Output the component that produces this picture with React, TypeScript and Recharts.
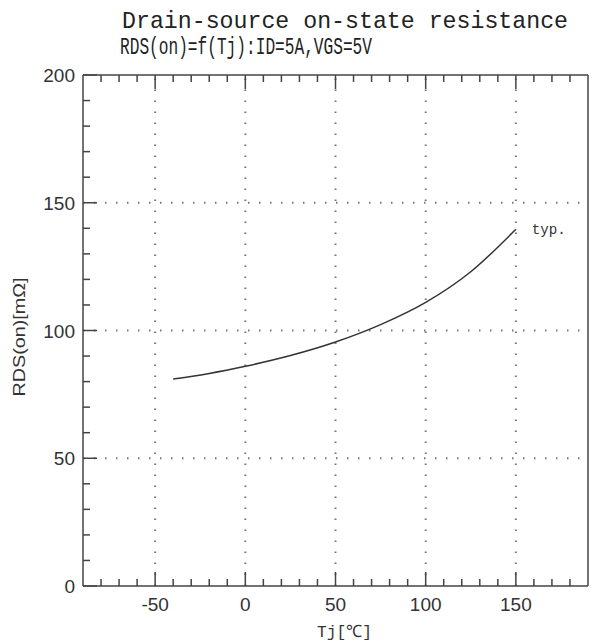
import { Line, LineChart, ReferenceLine, XAxis, YAxis, LabelList } from 'recharts'

const tj = [-40, -20, 0, 25, 50, 75, 100, 125, 150]
const rdsOn = [81, 83.2, 86, 90.2, 95.5, 102.3, 111, 123, 139.6]

const xTicks = [-80, -70, -60, -50, -40, -30, -20, -10, 0, 10, 20, 30, 40, 50, 60, 70, 80, 90, 100, 110, 120, 130, 140, 150, 160, 170, 180]
const yTicks = [0, 10, 20, 30, 40, 50, 60, 70, 80, 90, 100, 110, 120, 130, 140, 150, 160, 170, 180, 190, 200]
const xGrid = [-50, 0, 50, 100, 150]
const yGrid = [50, 100, 150]

const data = tj.map((t, i) => ({ tj: t, r: rdsOn[i] }))

const INK = '#444'
const TICK_FONT = '"Liberation Sans Narrow", "Liberation Sans", Arial, sans-serif'
const MONO = '"Liberation Mono", "DejaVu Sans Mono", monospace'

function XTick(props: any) {
  const { x, y, payload, side } = props
  const major = payload.value % 50 === 0
  const len = major ? 14 : 7
  const dir = side === 'top' ? 1 : -1
  return (
    <g>
      <line x1={x} y1={y} x2={x} y2={y + dir * len} stroke={INK} strokeWidth={1.5} />
      {side === 'bottom' && major && (
        <text x={x} y={y + 25} textAnchor="middle" fontSize={19} fill="#333" fontFamily={TICK_FONT}>
          {payload.value}
        </text>
      )}
    </g>
  )
}

function YTick(props: any) {
  const { x, y, payload, side } = props
  const major = payload.value % 50 === 0
  const len = major ? 14 : 7
  const dir = side === 'left' ? 1 : -1
  return (
    <g>
      <line x1={x} y1={y} x2={x + dir * len} y2={y} stroke={INK} strokeWidth={1.5} />
      {side === 'left' && major && (
        <text x={x - 8} y={y + 7} textAnchor="end" fontSize={19} fill="#333" fontFamily={TICK_FONT}>
          {payload.value}
        </text>
      )}
    </g>
  )
}

function TypLabel(props: any) {
  const { x, y, index } = props
  if (index !== data.length - 1) return null
  return (
    <text x={x + 16} y={y + 5} fontSize={15} fill="#333" fontFamily={MONO} textLength={34} lengthAdjust="spacingAndGlyphs">
      typ.
    </text>
  )
}

export default function App() {
  return (
    <div style={{ position: 'relative', width: 592, height: 642, background: '#fff' }}>
      <style>{'body{margin:0}'}</style>
      <LineChart width={592} height={642} data={data} margin={{ top: 70, right: 0, bottom: 6, left: 23 }}>
        <XAxis
          xAxisId="b"
          type="number"
          dataKey="tj"
          domain={[-90, 190]}
          ticks={xTicks}
          interval={0}
          tickSize={0}
          tickMargin={0}
          height={50}
          axisLine={{ stroke: INK, strokeWidth: 1.5 }}
          tick={<XTick side="bottom" />}
        />
        <XAxis
          xAxisId="t"
          orientation="top"
          type="number"
          dataKey="tj"
          domain={[-90, 190]}
          ticks={xTicks}
          interval={0}
          tickSize={0}
          tickMargin={0}
          height={5}
          axisLine={{ stroke: INK, strokeWidth: 1.5 }}
          tick={<XTick side="top" />}
        />
        <YAxis
          yAxisId="l"
          type="number"
          domain={[0, 200]}
          ticks={yTicks}
          interval={0}
          tickSize={0}
          tickMargin={0}
          width={60}
          axisLine={{ stroke: INK, strokeWidth: 1.5 }}
          tick={<YTick side="left" />}
        />
        <YAxis
          yAxisId="r"
          orientation="right"
          type="number"
          domain={[0, 200]}
          ticks={yTicks}
          interval={0}
          tickSize={0}
          tickMargin={0}
          width={4}
          axisLine={{ stroke: INK, strokeWidth: 1.5 }}
          tick={<YTick side="right" />}
        />
        {xGrid.map((v) => (
          <ReferenceLine key={'x' + v} xAxisId="b" yAxisId="l" x={v} stroke="#777" strokeWidth={2} strokeDasharray="1.5 9.5" />
        ))}
        {yGrid.map((v) => (
          <ReferenceLine key={'y' + v} xAxisId="b" yAxisId="l" y={v} stroke="#777" strokeWidth={2} strokeDasharray="1.5 9.5" />
        ))}
        <Line
          xAxisId="b"
          yAxisId="l"
          dataKey="r"
          type="monotone"
          stroke="#333"
          strokeWidth={1.5}
          dot={false}
          isAnimationActive={false}
        >
          <LabelList dataKey="r" content={<TypLabel />} />
        </Line>
      </LineChart>
      <svg width={592} height={642} style={{ position: 'absolute', left: 0, top: 0, pointerEvents: 'none' }}>
        <text x={122} y={28} fontSize={24} fill="#222" fontFamily={MONO} textLength={446} lengthAdjust="spacingAndGlyphs">
          Drain-source on-state resistance
        </text>
        <text x={120} y={54} fontSize={24} fill="#222" fontFamily={MONO} textLength={252} lengthAdjust="spacingAndGlyphs">
          RDS(on)=f(Tj):ID=5A,VGS=5V
        </text>
        <text
          x={25}
          y={337}
          transform="rotate(-90 25 337)"
          textAnchor="middle"
          fontSize={16}
          fill="#333"
          fontFamily={TICK_FONT}
          textLength={119}
          lengthAdjust="spacingAndGlyphs"
        >
          RDS(on)[mΩ]
        </text>
        <text x={317} y={637} fontSize={17} fill="#333" fontFamily={MONO} textLength={55} lengthAdjust="spacingAndGlyphs">
          Tj[℃]
        </text>
      </svg>
    </div>
  )
}
